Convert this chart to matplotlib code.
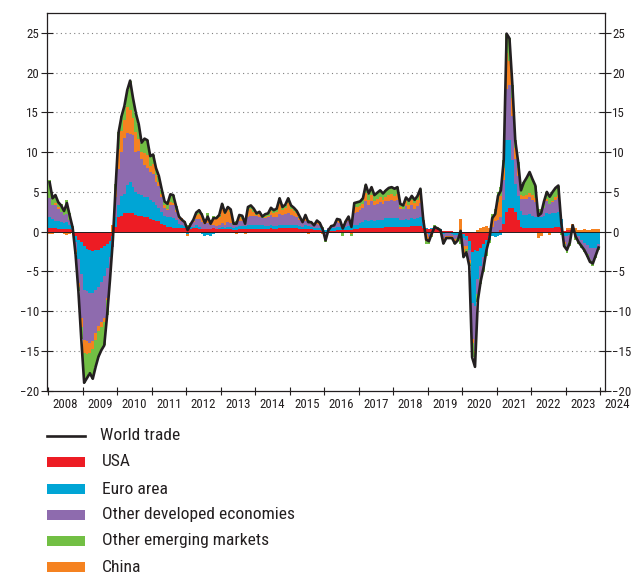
import numpy as np
import matplotlib
matplotlib.use("Agg")
import matplotlib.pyplot as plt
from matplotlib import font_manager as fm
from matplotlib.patches import Rectangle
from matplotlib.lines import Line2D

# pick a narrow sans face if one is installed
_ttf = fm.fontManager.ttflist
_names = {f.name for f in _ttf}
_stretch = 'normal'
if 'Liberation Sans Narrow' in _names:
    _fam = 'Liberation Sans Narrow'
elif 'Roboto Condensed' in _names:
    _fam = 'Roboto Condensed'
elif any(f.name == 'DejaVu Sans' and 'condensed' in str(f.stretch) for f in _ttf):
    _fam = 'DejaVu Sans'
    _stretch = 'condensed'
else:
    _fam = 'Liberation Sans'
plt.rcParams['font.family'] = [_fam, 'DejaVu Sans']
plt.rcParams['font.stretch'] = _stretch

start_year = 2008
years = list(range(2008, 2025))

# monthly contributions (percentage points), Jan 2008 .. Dec 2023
usa = [0.4, 0.4, 0.4, 0.3, 0.3, 0.3, 0.3, 0.3, 0.2, -0.5, -1.0, -1.3,
       -1.8, -2.2, -2.3, -2.4, -2.3, -2.3, -2.0, -1.8, -1.6, -1.2, -0.5, 0.6,
       1.9, 2.0, 2.3, 2.4, 2.4, 2.3, 2.1, 2.0, 2.0, 1.9, 1.8, 1.6,
       1.5, 1.4, 1.3, 1.0, 0.8, 0.6, 0.6, 0.5, 0.5, 0.4, 0.4, 0.4,
       0.3, 0.3, 0.4, 0.4, 0.3, 0.3, 0.3, 0.3, 0.3, 0.4, 0.3, 0.3,
       0.3, 0.3, 0.3, 0.3, 0.2, 0.2, 0.3, 0.3, 0.3, 0.3, 0.3, 0.3,
       0.3, 0.3, 0.3, 0.3, 0.3, 0.4, 0.3, 0.3, 0.4, 0.4, 0.4, 0.4,
       0.4, 0.4, 0.4, 0.3, 0.3, 0.3, 0.3, 0.3, 0.2, 0.2, 0.2, 0.1,
       -0.2, 0.1, 0.1, 0.1, 0.2, 0.2, 0.2, 0.2, 0.2, 0.2, 0.3, 0.3,
       0.4, 0.4, 0.5, 0.5, 0.5, 0.5, 0.5, 0.5, 0.5, 0.6, 0.6, 0.6,
       0.6, 0.6, 0.6, 0.6, 0.6, 0.6, 0.7, 0.7, 0.7, 0.7, 0.5, 0.3,
       0.3, 0.3, 0.3, 0.3, 0.2, 0.1, 0.1, 0.1, 0.1, 0.0, -0.1, 0.0,
       -0.3, -0.5, -1.2, -2.5, -2.3, -2.4, -2.0, -1.5, -1.0, -0.5, -0.2, -0.1,
       0.0, 0.2, 1.0, 2.5, 3.0, 3.0, 2.5, 1.5, 0.6, 0.5, 0.5, 0.5,
       0.4, 0.4, 0.4, 0.4, 0.4, 0.5, 0.5, 0.5, 0.6, 0.6, 0.4, 0.1,
       0.2, 0.2, 0.1, 0.0, 0.0, 0.0, -0.1, -0.1, -0.1, -0.1, -0.1, -0.1]

euro = [1.4, 1.2, 1.0, 1.0, 0.9, 0.8, 0.9, 0.6, 0.2, -0.8, -2.5, -4.0,
        -5.5, -5.2, -5.4, -5.3, -5.0, -4.6, -4.3, -3.8, -3.0, -2.0, -0.8, 1.2,
        1.5, 2.5, 2.5, 3.5, 3.9, 3.3, 2.9, 2.8, 2.6, 2.5, 2.6, 2.4,
        2.2, 1.9, 1.7, 1.5, 1.2, 1.2, 1.3, 1.2, 1.0, 0.6, 0.5, 0.3,
        -0.3, 0.3, 0.2, 0.4, 0.3, -0.3, -0.5, -0.4, -0.5, -0.3, -0.2, 0.2,
        0.3, 0.2, 0.3, 0.3, 0.3, 0.4, 0.4, 0.4, 0.4, 0.5, 0.5, 0.5,
        0.5, 0.5, 0.5, 0.4, 0.4, 0.5, 0.4, 0.4, 0.4, 0.4, 0.4, 0.5,
        0.4, 0.4, 0.4, 0.4, 0.3, 0.5, 0.4, 0.3, 0.3, 0.3, 0.3, 0.2,
        0.2, 0.2, 0.3, 0.3, 0.4, 0.4, 0.3, 0.4, 0.5, 0.4, 0.6, 0.6,
        0.7, 0.8, 1.0, 0.9, 1.0, 0.9, 1.0, 1.0, 1.0, 1.1, 1.1, 1.1,
        1.1, 1.1, 0.9, 0.9, 1.0, 0.9, 1.0, 0.9, 1.0, 1.1, 0.5, 0.2,
        -0.3, 0.2, 0.2, 0.1, 0.1, -0.3, -0.2, -0.2, -0.3, -0.4, -0.3, -0.3,
        -0.5, -0.5, -1.1, -6.5, -7.0, -3.5, -2.3, -1.7, -1.0, -0.5, -0.3, -0.6,
        -0.5, -0.4, 3.0, 9.0, 8.5, 6.0, 3.5, 3.0, 2.0, 1.6, 1.6, 1.7,
        1.6, 1.5, 1.5, 1.5, 1.6, 1.8, 1.7, 1.8, 1.8, 1.9, 1.2, -0.5,
        -0.5, -0.4, 0.3, -0.3, -0.5, -1.0, -1.3, -1.6, -1.9, -2.0, -1.9, -1.5]

other_dev = [2.4, 1.8, 2.0, 1.5, 1.3, 1.0, 1.0, 0.6, 0.2, -1.0, -3.0, -5.5,
             -6.3, -6.4, -6.3, -6.0, -5.5, -5.0, -5.0, -5.2, -3.8, -2.0, -0.6, 2.5,
             4.5, 5.5, 7.0, 6.5, 6.0, 6.5, 5.0, 5.3, 4.6, 4.0, 3.6, 3.5,
             3.6, 3.0, 2.8, 1.8, 1.0, 0.9, 1.5, 1.6, 1.0, 0.6, 0.5, 0.4,
             0.3, 0.4, 0.6, 0.8, 1.0, 0.9, 0.7, 0.8, 0.5, 0.5, 0.4, 0.4,
             0.5, 0.4, 0.6, 0.5, 0.4, 0.4, 0.6, 0.7, 0.5, 1.0, 1.2, 1.2,
             1.2, 1.1, 0.9, 1.0, 1.1, 1.2, 1.2, 1.2, 1.4, 1.3, 1.4, 1.5,
             1.3, 1.2, 1.0, 0.8, 0.6, 0.6, 0.5, 0.4, 0.3, 0.5, 0.4, 0.2,
             -0.2, 0.1, 0.3, 0.4, 0.6, 0.5, 0.3, 0.5, 0.6, 0.5, 1.5, 1.6,
             1.6, 1.8, 2.4, 2.0, 2.3, 2.0, 2.0, 2.2, 2.0, 2.1, 2.2, 2.3,
             2.2, 2.3, 1.4, 1.3, 1.6, 1.4, 1.6, 1.3, 1.5, 1.8, 0.4, -0.3,
             -0.4, -0.2, 0.1, 0.1, 0.0, -0.5, -0.3, -0.3, -0.3, -0.5, -0.4, -0.6,
             -1.0, -0.8, -1.3, -4.5, -5.7, -2.0, -1.5, -1.3, -0.6, -0.1, 0.6, 1.4,
             1.5, 1.6, 2.5, 6.5, 7.0, 5.5, 3.2, 2.5, 1.5, 2.0, 2.0, 2.2,
             2.0, 1.8, 0.6, 0.5, 1.0, 1.5, 1.3, 1.4, 1.6, 1.7, 0.0, -0.8,
             -1.4, -0.9, 0.0, -0.4, -0.7, -0.7, -0.8, -1.1, -1.5, -1.6, -1.0, -0.5]

china = [-0.3, -0.3, 0.2, 0.3, -0.2, -0.3, -0.4, -0.3, -0.2, -0.3, -0.5, -1.2,
         -1.7, -1.6, -1.2, -1.0, -0.8, -0.6, -0.7, -0.5, -0.2, 0.0, 0.8, 0.9,
         2.5, 2.6, 2.2, 3.3, 3.0, 2.2, 2.5, 1.5, 0.8, 1.5, 1.7, 0.7,
         1.2, 0.8, 0.5, 0.4, 0.3, 0.2, 0.3, 0.3, 0.2, 0.1, 0.3, 0.3,
         -0.3, -0.2, 0.2, 0.5, 0.6, 0.8, 0.4, 0.7, 0.6, 0.8, 1.0, 1.0,
         1.8, 1.3, 1.6, 1.4, -0.2, -0.3, 0.5, 0.2, -0.3, 0.8, 0.9, 0.5,
         0.1, 0.3, -0.1, 0.2, 0.2, 0.5, 0.4, 0.6, 1.3, 0.6, 0.8, 1.2,
         0.8, 0.6, 0.5, 0.2, -0.2, 0.5, -0.3, 0.0, 0.2, 0.3, 0.3, -0.3,
         -0.6, -0.2, 0.1, 0.2, 0.2, 0.3, 0.2, 0.1, 0.3, -0.3, 0.7, 0.6,
         0.5, 0.5, 1.0, 0.6, 0.8, 0.4, 0.6, 0.6, 0.5, 0.6, 0.7, 0.7,
         0.6, 0.7, 0.2, 0.1, 0.6, 0.5, 0.7, 0.7, 0.8, 1.2, 0.1, -0.9,
         -0.5, -0.3, -0.2, -0.2, -0.1, -0.5, -0.3, -0.2, -0.1, -0.3, 0.0, 1.6,
         -1.0, -0.4, -0.3, -0.5, -0.3, 0.2, 0.4, 0.6, 0.7, 0.5, 1.0, 0.8,
         2.2, 2.7, 1.5, 4.5, 3.0, 2.3, 1.3, 1.0, 0.5, 0.4, 0.5, 0.5,
         0.6, 0.5, -0.8, -0.5, 0.0, 0.3, -0.4, 0.2, 0.3, 0.4, -0.2, -0.3,
         0.2, 0.2, 0.6, 0.4, 0.2, 0.2, 0.3, 0.2, 0.2, 0.3, 0.3, 0.3]

other_em = [2.3, 1.1, 1.0, 0.6, 1.0, 0.8, 1.8, 0.8, 0.1, -0.2, -0.5, -1.5,
            -3.7, -3.0, -2.6, -3.8, -3.4, -3.2, -2.9, -3.0, -1.9, -0.8, 0.1, 0.8,
            2.1, 1.9, 1.8, 2.1, 3.7, 2.5, 2.4, 1.9, 1.2, 1.8, 1.8, 1.3,
            1.2, 0.9, 0.7, 0.6, 0.5, 0.6, 1.0, 1.0, 0.5, 0.2, -0.2, -0.2,
            0.2, 0.1, 0.1, 0.3, 0.5, 0.4, 0.2, 0.5, 0.1, 0.3, 0.2, 0.2,
            0.6, 0.2, 0.3, 0.3, 0.3, 0.3, 0.3, 0.4, 0.1, 0.5, 0.4, 0.4,
            0.2, 0.3, 0.3, 0.3, 0.3, 0.4, 0.4, 0.4, 0.7, 0.4, 0.4, 0.6,
            0.4, 0.4, 0.3, 0.2, 0.2, 0.2, 0.3, 0.2, -0.2, 0.1, -0.1, 0.1,
            -0.3, 0.0, -0.1, -0.2, 0.2, 0.1, -0.6, 0.1, 0.3, -0.2, 0.5, 0.6,
            0.6, 0.7, 1.0, 0.8, 1.0, 0.8, 0.8, 0.9, 0.8, 0.8, 0.9, 0.9,
            0.9, 0.9, 0.4, 0.4, 0.5, 0.5, 0.5, 0.4, 0.5, 0.6, 0.0, -0.3,
            -0.3, -0.2, 0.2, 0.1, 0.0, -0.3, -0.1, -0.2, -0.2, -0.3, -0.3, -0.6,
            -0.4, -0.4, -0.4, -1.8, -1.7, -0.9, -0.8, -0.6, -0.4, -0.3, 0.6, 0.7,
            1.3, 1.1, 1.0, 2.4, 2.8, 1.7, 1.0, 0.8, 0.6, 1.7, 2.2, 2.6,
            2.0, 1.6, 0.3, 0.4, 0.8, 0.9, 1.3, 1.1, 1.2, 1.2, -0.2, -0.3,
            -0.8, -0.5, -0.2, -0.3, -0.3, -0.3, -0.4, -0.4, -0.5, -0.6, -0.3, -0.2]

world = [6.2, 4.2, 4.6, 3.7, 3.3, 2.6, 3.6, 2.0, 0.5, -2.8, -7.5, -13.5,
         -19.0, -18.4, -17.8, -18.5, -17.0, -15.7, -14.9, -14.3, -10.5, -6.0, -1.0, 6.0,
         12.5, 14.5, 15.8, 17.8, 19.0, 16.8, 14.9, 13.5, 11.2, 11.7, 11.5, 9.5,
         9.7, 8.0, 7.0, 5.3, 3.8, 3.5, 4.7, 4.6, 3.2, 1.9, 1.5, 1.2,
         0.2, 0.9, 1.5, 2.4, 2.7, 2.1, 1.1, 1.9, 1.0, 1.7, 1.7, 2.1,
         3.5, 2.4, 3.1, 2.8, 1.0, 1.0, 2.1, 2.0, 1.0, 3.1, 3.3, 2.9,
         2.3, 2.5, 1.9, 2.2, 2.3, 3.0, 2.7, 2.9, 4.2, 3.1, 3.4, 4.2,
         3.3, 3.0, 2.6, 1.9, 1.2, 2.1, 1.2, 1.2, 0.8, 1.4, 1.1, 0.3,
         -1.1, 0.2, 0.7, 0.8, 1.6, 1.5, 0.4, 1.3, 1.9, 0.6, 3.6, 3.7,
         3.8, 4.2, 5.9, 4.8, 5.6, 4.6, 4.9, 5.2, 4.8, 5.2, 5.5, 5.6,
         5.4, 5.6, 3.5, 3.3, 4.3, 3.9, 4.5, 4.0, 4.5, 5.4, 1.5, -1.0,
         -1.2, -0.2, 0.6, 0.4, 0.2, -1.5, -0.8, -0.8, -0.8, -1.5, -1.1, 0.1,
         -3.2, -2.6, -4.3, -15.8, -17.0, -8.6, -6.2, -4.5, -2.3, -0.9, 1.7, 2.2,
         4.5, 5.2, 9.0, 24.9, 24.3, 18.5, 11.5, 8.8, 5.2, 6.2, 6.8, 7.5,
         6.6, 5.8, 2.0, 2.3, 3.8, 5.0, 4.4, 5.0, 5.5, 5.8, 1.2, -1.8,
         -2.3, -1.4, 0.8, -0.6, -1.3, -1.8, -2.3, -3.0, -3.8, -4.0, -3.0, -2.0]

legend_labels = ["USA", "Euro area", "Other developed economies",
                 "Other emerging markets", "China"]
colors = {"USA": "#ed1c24", "Euro area": "#00a5d5",
          "Other developed economies": "#8e6bae",
          "Other emerging markets": "#72bf44", "China": "#f58220"}
series = {"USA": usa, "Euro area": euro, "Other developed economies": other_dev,
          "Other emerging markets": other_em, "China": china}
stack_order = ["USA", "Euro area", "Other developed economies", "China",
               "Other emerging markets"]

W, H = 638, 574
fig = plt.figure(figsize=(W / 100, H / 100), dpi=100)
_r = fig.canvas.get_renderer()


def fit_size(s, target_w, target_h_size):
    t = fig.text(0, 0, s, fontsize=10)
    w = t.get_window_extent(_r).width
    t.remove()
    wsize = 10.0 * target_w / w
    return wsize ** 0.75 * target_h_size ** 0.25


tick_fs = fit_size("2008", 24.5, 10.0)
leg_fs = fit_size("Other developed economies", 191.0, 12.5)

ax_l, ax_r, ax_t, ax_b = 46.5, 604.5, 13, 390.7
ax = fig.add_axes([ax_l / W, 1 - ax_b / H, (ax_r - ax_l) / W, (ax_b - ax_t) / H])

n = len(world)
x = start_year + (np.arange(n) + 0.5) / 12.0
pos = np.zeros(n)
neg = np.zeros(n)
for name in stack_order:
    v = np.asarray(series[name], dtype=float)
    bottom = np.where(v >= 0, pos, neg)
    ax.bar(x, v, width=1 / 12.0, bottom=bottom, color=colors[name],
           linewidth=0, zorder=2, align='center')
    pos += np.clip(v, 0, None)
    neg += np.clip(v, None, 0)

for gv in [-15, -10, -5, 5, 10, 15, 20, 25]:
    ax.axhline(gv, color='#808080', lw=0.8, ls=(0, (1, 3)), zorder=1)
ax.axhline(0, color='#231f20', lw=0.7, zorder=3)
ax.plot(x, world, color='#231f20', lw=1.9, zorder=4, solid_joinstyle='round')

ax.set_xlim(2007.95, 2024.13)
ax.set_ylim(-20, 27.5)
ax.set_yticks(range(-20, 26, 5))
ax.set_xticks(years)
ax.set_xticklabels([])
txtc = '#231f20'
ax.tick_params(axis='y', which='both', left=True, right=True, labelleft=True,
               labelright=True, direction='inout', length=8, width=0.8,
               labelsize=tick_fs, pad=1.5, colors=txtc)
ax.tick_params(axis='x', direction='inout', length=6, width=0.8, colors=txtc)
for s in ax.spines.values():
    s.set_linewidth(0.9)
    s.set_color('#231f20')

xt = ax.get_xaxis_transform()
ylab = -(398.5 - ax_b) / (ax_b - ax_t)
for yr in years:
    ax.text(yr + 0.5, ylab, str(yr), transform=xt, ha='center', va='top',
            fontsize=tick_fs, color=txtc, clip_on=False)

# legend
rows = [436, 462, 489, 515, 541, 567]
hx0, hx1 = 47, 85
fig.add_artist(Line2D([hx0 / W, hx1 / W], [1 - rows[0] / H] * 2,
                      transform=fig.transFigure, color='#231f20', lw=1.9))
fig.text(100 / W, 1 - rows[0] / H, "World trade", fontsize=leg_fs, va='center',
         ha='left', color=txtc)
for i, name in enumerate(legend_labels):
    yc = rows[i + 1]
    fig.add_artist(Rectangle((hx0 / W, 1 - (yc + 5) / H), (hx1 - hx0) / W, 10 / H,
                             transform=fig.transFigure, color=colors[name], lw=0))
    fig.text(102 / W, 1 - yc / H, name, fontsize=leg_fs, va='center', ha='left',
             color=txtc)

fig.savefig("out.png", dpi=100)
